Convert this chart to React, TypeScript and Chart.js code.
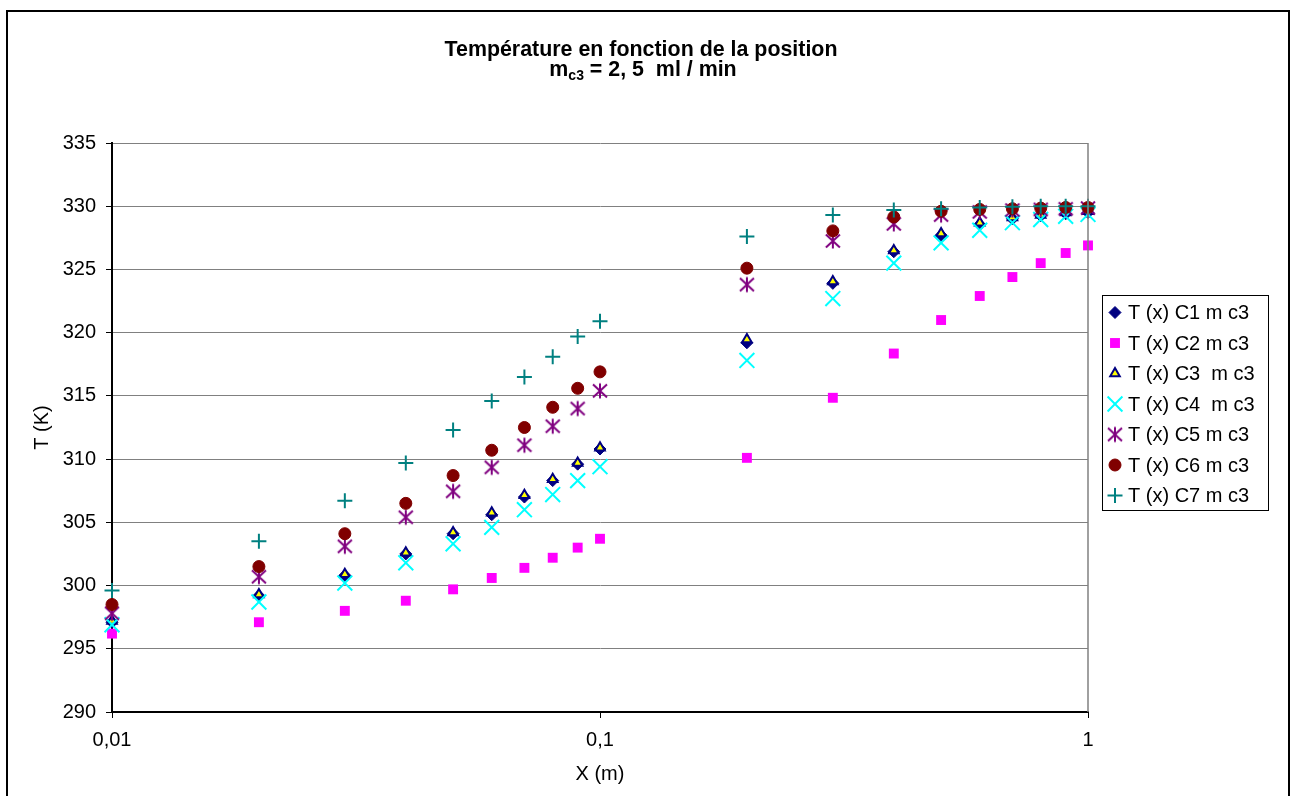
import React, { useEffect, useRef } from 'react';
import { Chart, registerables } from 'chart.js';
import { drawPoint } from 'chart.js/helpers';

Chart.register(...registerables);

// Positions along the exchanger (m), log-spaced sampling
const positions = [0.01, 0.02, 0.03, 0.04, 0.05, 0.06, 0.07, 0.08, 0.09, 0.1, 0.2, 0.3, 0.4, 0.5, 0.6, 0.7, 0.8, 0.9, 1];

// Temperatures (K) for each case
const tempC1 = [297.1, 299.2, 300.8, 302.5, 304.1, 305.6, 307.0, 308.3, 309.6, 310.8, 319.2, 323.9, 326.4, 327.7, 328.55, 329.0, 329.25, 329.4, 329.5];
const tempC2 = [296.2, 297.1, 298.0, 298.8, 299.7, 300.6, 301.4, 302.2, 303.0, 303.7, 310.1, 314.85, 318.35, 321.0, 322.9, 324.4, 325.5, 326.3, 326.9];
const tempC3 = [297.2, 299.3, 300.9, 302.6, 304.2, 305.75, 307.15, 308.4, 309.7, 310.9, 319.45, 324.05, 326.5, 327.85, 328.7, 329.1, 329.3, 329.5, 329.6];
const tempC4 = [296.9, 298.7, 300.2, 301.8, 303.3, 304.6, 306.0, 307.2, 308.3, 309.4, 317.8, 322.7, 325.5, 327.1, 328.1, 328.7, 328.95, 329.2, 329.35];
const tempC5 = [297.8, 300.7, 303.1, 305.4, 307.45, 309.35, 311.1, 312.6, 314.0, 315.4, 323.8, 327.25, 328.6, 329.3, 329.55, 329.7, 329.75, 329.8, 329.85];
const tempC6 = [298.5, 301.5, 304.1, 306.5, 308.7, 310.7, 312.5, 314.1, 315.6, 316.9, 325.1, 328.05, 329.15, 329.6, 329.75, 329.8, 329.85, 329.9, 329.9];
const tempC7 = [299.6, 303.5, 306.7, 309.7, 312.3, 314.6, 316.5, 318.1, 319.7, 320.9, 327.6, 329.3, 329.7, 329.8, 329.9, 329.95, 330.0, 330.0, 330.0];

const seriesLabels = [
  'T (x) C1 m c3',
  'T (x) C2 m c3',
  'T (x) C3  m c3',
  'T (x) C4  m c3',
  'T (x) C5 m c3',
  'T (x) C6 m c3',
  'T (x) C7 m c3',
];

const xTickValues = [0.01, 0.1, 1];
const yMin = 290;
const yMax = 335;
const yStep = 5;

const titleLine1 = 'Température en fonction de la position';
const titleMass = 'm';
const titleSub = 'c3';
const titleRest = ' = 2, 5  ml / min';

const FONT = "'Liberation Sans', Arial, Helvetica, sans-serif";

function makeAsterisk(color: string): HTMLCanvasElement {
  const size = 18;
  const c = document.createElement('canvas');
  c.width = size;
  c.height = size;
  const ctx = c.getContext('2d')!;
  ctx.strokeStyle = color;
  ctx.lineWidth = 2;
  const m = size / 2;
  ctx.beginPath();
  ctx.moveTo(m, m - 7.5);
  ctx.lineTo(m, m + 7.5);
  ctx.moveTo(m - 7, m - 6.5);
  ctx.lineTo(m + 7, m + 6.5);
  ctx.moveTo(m + 7, m - 6.5);
  ctx.lineTo(m - 7, m + 6.5);
  ctx.stroke();
  return c;
}

export default function App() {
  const canvasRef = useRef<HTMLCanvasElement | null>(null);

  useEffect(() => {
    const canvas = canvasRef.current;
    if (!canvas) return;

    const asterisk = makeAsterisk('#800080');

    const styles = [
      { pointStyle: 'rectRot', radius: 6, bg: '#000080', border: '#000080', bw: 1 },
      { pointStyle: 'rect', radius: 7, bg: '#FF00FF', border: '#FF00FF', bw: 0 },
      { pointStyle: 'triangle', radius: 5.5, bg: '#FFFF00', border: '#000080', bw: 2 },
      { pointStyle: 'crossRot', radius: 10.5, bg: '#00FFFF', border: '#00FFFF', bw: 2 },
      { pointStyle: asterisk as any, radius: 8, bg: '#800080', border: '#800080', bw: 2 },
      { pointStyle: 'circle', radius: 6, bg: '#800000', border: '#800000', bw: 1 },
      { pointStyle: 'cross', radius: 7.5, bg: '#008080', border: '#008080', bw: 2 },
    ];

    const series = [tempC1, tempC2, tempC3, tempC4, tempC5, tempC6, tempC7];

    const datasets = series.map((vals, i) => ({
      label: seriesLabels[i],
      data: positions.map((x, k) => ({ x, y: vals[k] })),
      showLine: false,
      clip: false,
      pointStyle: styles[i].pointStyle,
      pointRadius: styles[i].radius,
      pointBackgroundColor: styles[i].bg,
      pointBorderColor: styles[i].border,
      pointBorderWidth: styles[i].bw,
      order: series.length - i,
    }));

    const framePlugin = {
      id: 'frame',
      beforeDraw(chart: any) {
        const { ctx, width, height } = chart;
        ctx.save();
        ctx.fillStyle = '#ffffff';
        ctx.fillRect(0, 0, width, height);
        ctx.strokeStyle = '#000000';
        ctx.lineWidth = 2;
        ctx.strokeRect(7, 11, 1282, 800);
        ctx.restore();
      },
      afterDraw(chart: any) {
        const { ctx, chartArea } = chart;
        ctx.save();
        // right edge of the plot area
        ctx.strokeStyle = '#808080';
        ctx.lineWidth = 1.5;
        ctx.beginPath();
        ctx.moveTo(chartArea.right, chartArea.top);
        ctx.lineTo(chartArea.right, chartArea.bottom);
        ctx.stroke();

        // two-line title with subscript
        ctx.fillStyle = '#000';
        ctx.textBaseline = 'alphabetic';
        ctx.textAlign = 'left';
        ctx.font = `bold 21.4px ${FONT}`;
        const w1 = ctx.measureText(titleLine1).width;
        ctx.fillText(titleLine1, 641 - w1 / 2, 56);

        const wm = ctx.measureText(titleMass).width;
        const wr = ctx.measureText(titleRest).width;
        ctx.font = `bold 14px ${FONT}`;
        const ws = ctx.measureText(titleSub).width;
        let x = 643 - (wm + ws + wr) / 2;
        ctx.font = `bold 21.4px ${FONT}`;
        ctx.fillText(titleMass, x, 76);
        x += wm;
        ctx.font = `bold 14px ${FONT}`;
        ctx.fillText(titleSub, x, 80);
        x += ws;
        ctx.font = `bold 21.4px ${FONT}`;
        ctx.fillText(titleRest, x, 76);

        // legend box
        ctx.strokeStyle = '#000';
        ctx.lineWidth = 1;
        ctx.strokeRect(1102.5, 295.5, 166, 215);
        ctx.font = `20px ${FONT}`;
        ctx.textBaseline = 'middle';
        for (let i = 0; i < seriesLabels.length; i++) {
          const y = 312.5 + i * 30.5;
          const s = styles[i];
          ctx.fillStyle = s.bg;
          ctx.strokeStyle = s.border;
          ctx.lineWidth = s.bw;
          drawPoint(ctx, { pointStyle: s.pointStyle, rotation: 0, radius: s.radius, borderWidth: s.bw } as any, 1115, y);
          ctx.fillStyle = '#000';
          ctx.fillText(seriesLabels[i], 1128, y + 1);
        }
        ctx.restore();
      },
    };

    const chart = new Chart(canvas, {
      type: 'scatter',
      data: { datasets: datasets as any },
      plugins: [framePlugin],
      options: {
        animation: false,
        responsive: false,
        events: [],
        layout: { padding: { top: 143, right: 210, bottom: 0, left: 0 } },
        plugins: {
          legend: { display: false },
          title: { display: false },
          tooltip: { enabled: false },
        },
        scales: {
          x: {
            type: 'logarithmic',
            position: 'bottom',
            min: 0.01,
            max: 1,
            afterBuildTicks: (scale: any) => {
              scale.ticks = xTickValues.map((v) => ({ value: v, major: true }));
            },
            afterFit: (scale: any) => {
              scale.height = 84;
            },
            ticks: {
              autoSkip: false,
              maxRotation: 0,
              padding: 10,
              color: '#000',
              font: { size: 20, family: FONT },
              callback: (v: any) => String(v).replace('.', ','),
            },
            grid: {
              drawOnChartArea: false,
              drawTicks: true,
              tickLength: 6,
              tickColor: '#000',
              tickWidth: 1,
            },
            border: { display: true, color: '#000', width: 2 },
            title: {
              display: true,
              text: 'X (m)',
              color: '#000',
              font: { size: 20, family: FONT },
              padding: { top: 0, bottom: 10 },
            },
          },
          y: {
            type: 'linear',
            min: yMin,
            max: yMax,
            afterFit: (scale: any) => {
              scale.width = 112;
            },
            ticks: {
              stepSize: yStep,
              padding: 10,
              color: '#000',
              font: { size: 20, family: FONT },
            },
            grid: {
              color: '#808080',
              lineWidth: 1,
              tickColor: '#000',
              tickLength: 6,
            },
            border: { display: true, color: '#000', width: 2 },
            title: {
              display: true,
              text: 'T (K)',
              color: '#000',
              font: { size: 20, family: FONT },
              padding: { top: 30, bottom: 0 },
            },
          },
        },
      } as any,
    });

    return () => chart.destroy();
  }, []);

  return (
    <div style={{ position: 'fixed', left: 0, top: 0, width: 1298, height: 796, background: '#fff' }}>
      <canvas ref={canvasRef} width={1298} height={796} style={{ display: 'block' }} />
    </div>
  );
}
